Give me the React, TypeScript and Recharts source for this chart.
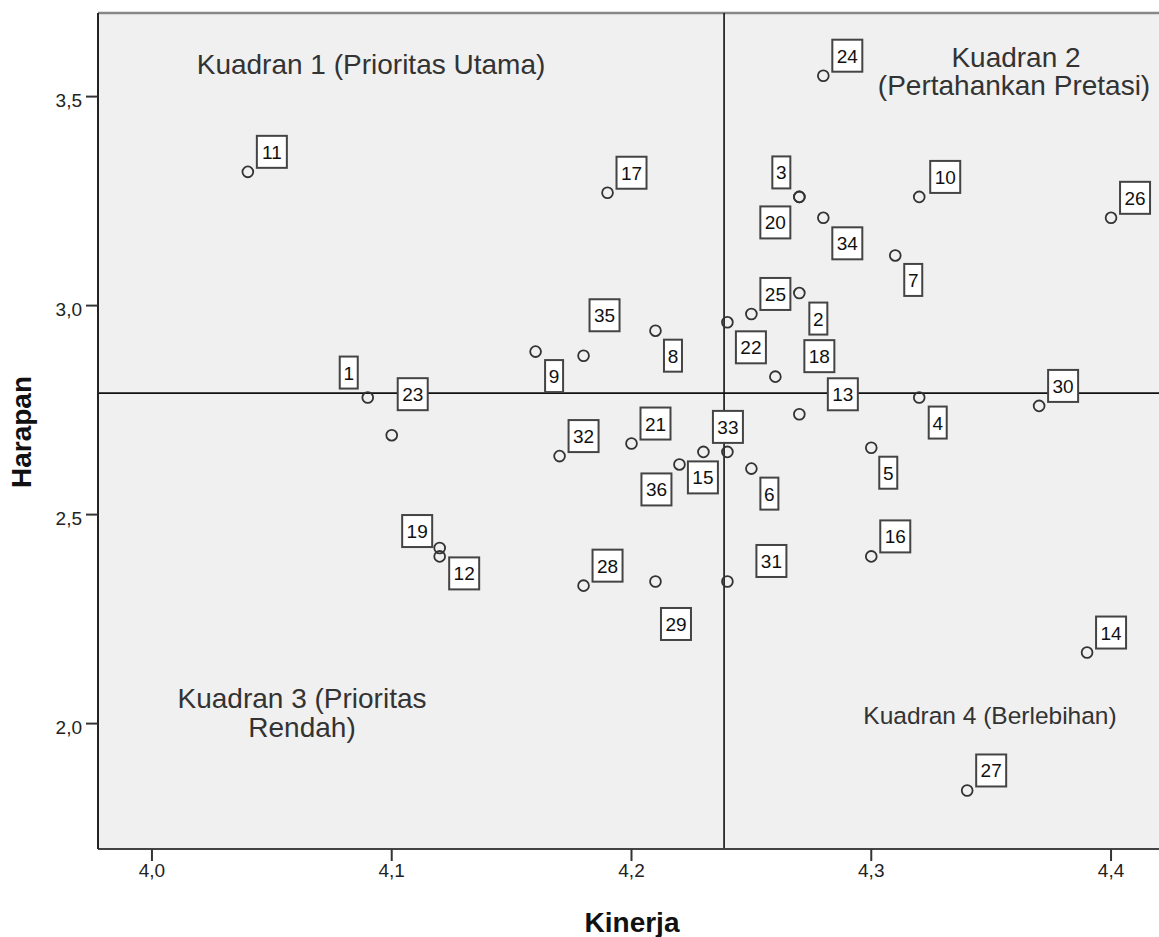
import React from 'react';
import { ScatterChart, Scatter, XAxis, YAxis, ReferenceLine, ReferenceArea } from 'recharts';

// Item numbers (atribut) with their Kinerja / Harapan means
const itemIds = [
  1, 2, 3, 4, 5, 6, 7, 8, 9, 10, 11, 12, 13, 14, 15, 16, 17, 18,
  19, 20, 21, 22, 23, 24, 25, 26, 27, 28, 29, 30, 31, 32, 33, 34, 35, 36,
];
const kinerja = [
  4.09, 4.27, 4.27, 4.32, 4.30, 4.25, 4.31, 4.21, 4.16, 4.32, 4.04, 4.12, 4.27, 4.39, 4.24, 4.30, 4.19, 4.26,
  4.12, 4.27, 4.20, 4.24, 4.10, 4.28, 4.25, 4.40, 4.34, 4.18, 4.21, 4.37, 4.24, 4.17, 4.23, 4.28, 4.18, 4.22,
];
const harapan = [
  2.78, 3.03, 3.26, 2.78, 2.66, 2.61, 3.12, 2.94, 2.89, 3.26, 3.32, 2.40, 2.74, 2.17, 2.65, 2.40, 3.27, 2.83,
  2.42, 3.26, 2.67, 2.96, 2.69, 3.55, 2.98, 3.21, 1.84, 2.33, 2.34, 2.76, 2.34, 2.64, 2.65, 3.21, 2.88, 2.62,
];

const xTicks = [4.0, 4.1, 4.2, 4.3, 4.4];
const yTicks = [2.0, 2.5, 3.0, 3.5];
const xDomain = [3.9775, 4.42];
const yDomain = [1.7, 3.7];

const data = itemIds.map((id, i) => ({ id, x: kinerja[i], y: harapan[i] }));

const mean = (arr: number[]) => arr.reduce((s, v) => s + v, 0) / arr.length;
const meanX = mean(kinerja);
const meanY = mean(harapan);

const FONT = "'Liberation Sans', Arial, sans-serif";

// where each label box sits relative to its point (box centre, px); default is upper right
const labelOffsets: Record<number, [number, number]> = {
  1: [-19, -25], 2: [19, 25.5], 3: [-18, -24.5], 4: [18.5, 25], 5: [17, 25], 6: [18, 25],
  7: [18, 24.5], 8: [17.5, 25], 9: [18.5, 24.5], 10: [26, -20], 12: [24.5, 17], 13: [43.5, -20],
  15: [-24.5, 25.5], 18: [44, -20.5], 19: [-22.5, -17], 20: [-24, 25.5], 22: [23.5, 25],
  23: [21, -41], 29: [20.5, 42.5], 31: [44, -20.5], 33: [24.5, -25], 34: [24, 25.5],
  35: [21, -40.5], 36: [-23, 25],
};

const fmt = (v: number) => v.toFixed(1).replace('.', ',');

const PointShape = (props: any) => {
  const { cx, cy, payload } = props;
  if (cx == null || cy == null) return null;
  const text = String(payload.id);
  const w = text.length > 1 ? 30 : 18;
  const h = 32;
  const off = labelOffsets[payload.id] ?? [8 + (w + 2) / 2, -20];
  const bx = cx + off[0];
  const by = cy + off[1];
  return (
    <g>
      <rect x={bx - w / 2} y={by - h / 2} width={w} height={h} fill="#fff" stroke="#444" strokeWidth={2} />
      <text x={bx} y={by + 7} textAnchor="middle" fontSize={19} fontFamily={FONT} fill="#111">
        {text}
      </text>
      <circle cx={cx} cy={cy} r={5.4} fill="none" stroke="#333" strokeWidth={1.8} />
    </g>
  );
};

const YTick = (props: any) => {
  const { x, y, payload } = props;
  return (
    <text x={x - 1} y={y + 10} textAnchor="end" fontSize={19} fontFamily={FONT} fill="#222">
      {fmt(payload.value)}
    </text>
  );
};

const XTick = (props: any) => {
  const { x, y, payload } = props;
  return (
    <text x={x} y={y + 14} textAnchor="middle" fontSize={19} fontFamily={FONT} fill="#222">
      {fmt(payload.value)}
    </text>
  );
};

const quadText = { fontFamily: FONT, fill: '#333', textAnchor: 'middle' as const };

export default function App() {
  return (
    <div style={{ position: 'absolute', left: 0, top: 0, width: 1159, height: 937, background: '#fff' }}>
      <ScatterChart width={1159} height={937} margin={{ top: 13, right: 0, bottom: 0, left: 0 }}>
        <ReferenceArea
          x1={xDomain[0]}
          x2={xDomain[1]}
          y1={yDomain[0]}
          y2={yDomain[1]}
          fill="#f0f0f0"
          fillOpacity={1}
          stroke="none"
          ifOverflow="hidden"
        />
        <XAxis
          type="number"
          dataKey="x"
          domain={xDomain}
          ticks={xTicks}
          allowDataOverflow
          height={88}
          tickSize={12}
          tickMargin={2}
          tick={<XTick />}
          axisLine={{ stroke: '#444', strokeWidth: 2 }}
          tickLine={{ stroke: '#333', strokeWidth: 2 }}
        />
        <YAxis
          type="number"
          dataKey="y"
          domain={yDomain}
          ticks={yTicks}
          allowDataOverflow
          width={98}
          tickSize={12}
          tickMargin={3}
          tick={<YTick />}
          axisLine={{ stroke: '#222', strokeWidth: 2 }}
          tickLine={{ stroke: '#333', strokeWidth: 2 }}
        />
        <Scatter data={data} shape={<PointShape />} isAnimationActive={false} />
        <ReferenceLine y={yDomain[1]} stroke="#888" strokeWidth={2.5} />
        <ReferenceLine x={meanX} stroke="#111" strokeWidth={1.6} />
        <ReferenceLine y={meanY} stroke="#111" strokeWidth={1.6} />
      </ScatterChart>
      <svg
        width={1159}
        height={937}
        style={{ position: 'absolute', left: 0, top: 0, pointerEvents: 'none' }}
      >
        <text x={371} y={74} fontSize={28} {...quadText}>Kuadran 1 (Prioritas Utama)</text>
        <text x={1016} y={67} fontSize={28} {...quadText}>Kuadran 2</text>
        <text x={1014} y={95} fontSize={28} {...quadText}>(Pertahankan Pretasi)</text>
        <text x={302} y={708} fontSize={28} {...quadText}>Kuadran 3 (Prioritas</text>
        <text x={302} y={737} fontSize={28} {...quadText}>Rendah)</text>
        <text x={990} y={724} fontSize={24.5} {...quadText}>Kuadran 4 (Berlebihan)</text>
        <text x={632} y={932} fontSize={28} fontWeight="bold" fontFamily={FONT} fill="#111" textAnchor="middle">
          Kinerja
        </text>
        <text
          x={31}
          y={432}
          fontSize={28}
          fontWeight="bold"
          fontFamily={FONT}
          fill="#111"
          textAnchor="middle"
          transform="rotate(-90 31 432)"
        >
          Harapan
        </text>
      </svg>
    </div>
  );
}
